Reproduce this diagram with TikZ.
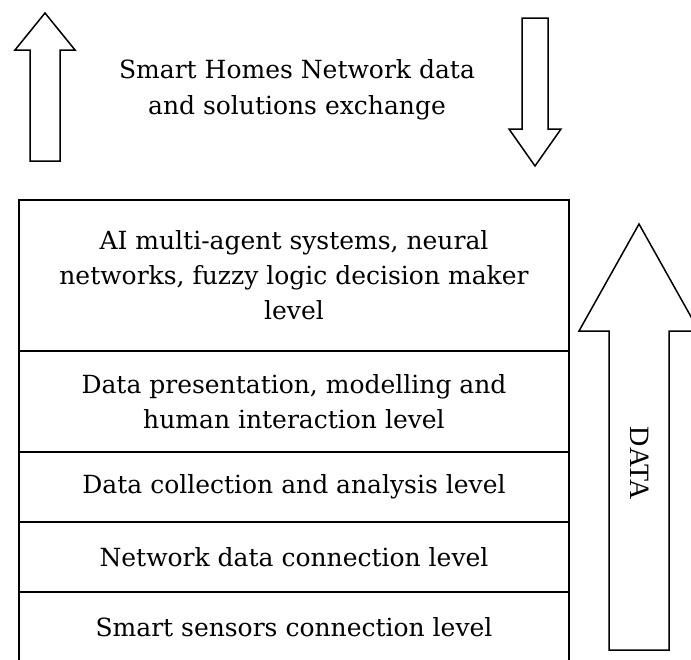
\documentclass[tikz,border=0pt]{standalone}
\usepackage{fontspec}
\setmainfont{DejaVu Serif}
\newfontfamily\datafont{Liberation Serif}
\tikzset{
  level/.style={draw, line width=1.5pt, minimum width=550pt, align=center,
    inner sep=0pt, font=\fontsize{25}{35}\selectfont},
  blockarrow/.style={draw, line width=1.5pt, line join=miter},
}
\begin{document}
\begin{tikzpicture}[x=1pt,y=-1pt]
      \useasboundingbox (0,0) rectangle (691,659);
      \clip (0,0) rectangle (691,659);

      \node[font=\fontsize{25}{36}\selectfont, align=center] (title) at (297,90)
        {Smart Homes Network data\\and solutions exchange};

      \node[level, minimum height=151pt] (ai) at (294,275.5)
        {AI multi-agent systems, neural\\networks, fuzzy logic decision maker\\level};
      \node[level, minimum height=101pt] (presentation) at (294,401.5)
        {Data presentation, modelling and\\human interaction level};
      \node[level, minimum height=70pt] (collection) at (294,487)
        {Data collection and analysis level};
      \node[level, minimum height=70pt] (network) at (294,557)
        {Network data connection level};
      \node[level, minimum height=70pt] (sensors) at (294,627)
        {Smart sensors connection level};

      \draw[blockarrow] (30,161) -- (30,50) -- (15,50) -- (45,13)
        -- (75,50) -- (60,50) -- (60,161) -- cycle;
      \draw[blockarrow] (522,18) -- (522,129) -- (509,129) -- (535,166)
        -- (561,129) -- (548,129) -- (548,18) -- cycle;
      \draw[blockarrow] (609,650) -- (609,331) -- (579,331) -- (639,224)
        -- (699,331) -- (669,331) -- (669,650) -- cycle;

      \node[rotate=-90, font=\datafont\fontsize{28}{28}\selectfont] (data) at (640,463) {DATA};

    \end{tikzpicture}
\end{document}
